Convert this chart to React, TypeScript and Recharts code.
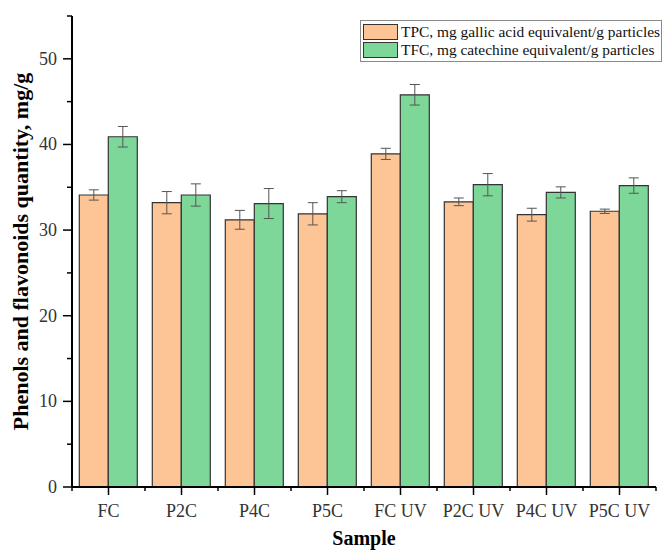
import React from 'react';
import { BarChart, Bar, XAxis, YAxis, ErrorBar, Legend, Label } from 'recharts';

const categories = ['FC', 'P2C', 'P4C', 'P5C', 'FC UV', 'P2C UV', 'P4C UV', 'P5C UV'];
const tpcValues = [34.1, 33.2, 31.2, 31.9, 38.9, 33.3, 31.8, 32.2];
const tpcErrors = [0.6, 1.3, 1.1, 1.3, 0.65, 0.45, 0.75, 0.25];
const tfcValues = [40.9, 34.1, 33.1, 33.9, 45.8, 35.3, 34.4, 35.2];
const tfcErrors = [1.2, 1.3, 1.75, 0.7, 1.2, 1.3, 0.65, 0.9];
const yTicks = [0, 5, 10, 15, 20, 25, 30, 35, 40, 45, 50, 55];
const seriesNames = ['TPC, mg gallic acid equivalent/g particles', 'TFC, mg catechine equivalent/g particles'];
const seriesColors = ['#FDC596', '#7DD799'];

const data = categories.map((c, i) => ({
  name: c,
  tpc: tpcValues[i],
  tpcErr: tpcErrors[i],
  tfc: tfcValues[i],
  tfcErr: tfcErrors[i],
}));

const FONT = "'Liberation Serif', 'Times New Roman', serif";

const YTick = (props: any) => {
  const { x, y, payload } = props;
  const major = payload.value % 10 === 0;
  return (
    <g>
      <line x1={x - (major ? 9 : 5)} x2={x} y1={y} y2={y} stroke="#000" strokeWidth={1.5} />
      {major && payload.value <= 50 ? (
        <text x={x - 15} y={y} dy={6} textAnchor="end" fontFamily={FONT} fontSize={18} fill="#333">
          {payload.value}
        </text>
      ) : null}
    </g>
  );
};

const XTick = (props: any) => {
  const { x, y, payload, index, width } = props;
  const band = width / categories.length;
  return (
    <g>
      <line x1={x} x2={x} y1={y} y2={y + 8} stroke="#000" strokeWidth={1.5} />
      <line x1={x - band / 2} x2={x - band / 2} y1={y} y2={y + 4} stroke="#000" strokeWidth={1.5} />
      {index === categories.length - 1 ? (
        <line x1={x + band / 2} x2={x + band / 2} y1={y} y2={y + 4} stroke="#000" strokeWidth={1.5} />
      ) : null}
      <text x={x} y={y + 30} textAnchor="middle" fontFamily={FONT} fontSize={18} fill="#333">
        {payload.value}
      </text>
    </g>
  );
};

const LegendBox = () => (
  <div
    style={{
      border: '1px solid #8a8a8a',
      background: '#fff',
      padding: '2px 2px',
      fontFamily: FONT,
      fontSize: 15.4,
      color: '#111',
      width: 296,
      boxSizing: 'content-box',
    }}
  >
    {seriesNames.map((n, i) => (
      <div key={n} style={{ display: 'flex', alignItems: 'center', height: 18, whiteSpace: 'nowrap' }}>
        <div
          style={{
            width: 33,
            height: 14,
            background: seriesColors[i],
            border: '1px solid #333',
            marginRight: 3,
            flex: 'none',
          }}
        />
        <span>{n}</span>
      </div>
    ))}
  </div>
);

export default function App() {
  return (
    <div style={{ position: 'absolute', left: 0, top: 0, width: 662, height: 556, background: '#fff' }}>
      <BarChart
        width={662}
        height={556}
        data={data}
        margin={{ top: 16, right: 6, left: 0, bottom: 0 }}
        barCategoryGap="10%"
        barGap={0}
      >
        <XAxis
          dataKey="name"
          height={69}
          axisLine={{ stroke: '#000', strokeWidth: 2 }}
          tickLine={false}
          tickSize={0}
          tickMargin={0}
          tick={<XTick />}
          interval={0}
        >
          <Label
            content={(p: any) => {
              const vb = p.viewBox;
              return (
                <text
                  x={vb.x + vb.width / 2}
                  y={vb.y + 58}
                  textAnchor="middle"
                  fontFamily={FONT}
                  fontWeight="bold"
                  fontSize={20}
                  fill="#000"
                >
                  Sample
                </text>
              );
            }}
          />
        </XAxis>
        <YAxis
          width={72}
          domain={[0, 55]}
          ticks={yTicks}
          interval={0}
          axisLine={{ stroke: '#000', strokeWidth: 2 }}
          tickLine={false}
          tickSize={0}
          tickMargin={0}
          tick={<YTick />}
        >
          <Label
            content={(p: any) => {
              const vb = p.viewBox;
              const cx = 28;
              const cy = vb.y + vb.height / 2;
              return (
                <text
                  x={cx}
                  y={cy}
                  transform={`rotate(-90 ${cx} ${cy})`}
                  textAnchor="middle"
                  fontFamily={FONT}
                  fontWeight="bold"
                  fontSize={22}
                  fill="#000"
                >
                  Phenols and flavonoids quantity, mg/g
                </text>
              );
            }}
          />
        </YAxis>
        <Legend
          layout="vertical"
          align="center"
          verticalAlign="middle"
          content={() => <LegendBox />}
          wrapperStyle={{ position: 'absolute', left: 360, top: 20, width: 'auto' }}
        />
        <Bar dataKey="tpc" name={seriesNames[0]} fill={seriesColors[0]} stroke="#333" strokeWidth={1.2} isAnimationActive={false}>
          <ErrorBar dataKey="tpcErr" width={5} stroke="#555" strokeWidth={1} direction="y" />
        </Bar>
        <Bar dataKey="tfc" name={seriesNames[1]} fill={seriesColors[1]} stroke="#333" strokeWidth={1.2} isAnimationActive={false}>
          <ErrorBar dataKey="tfcErr" width={5} stroke="#555" strokeWidth={1} direction="y" />
        </Bar>
      </BarChart>
    </div>
  );
}
